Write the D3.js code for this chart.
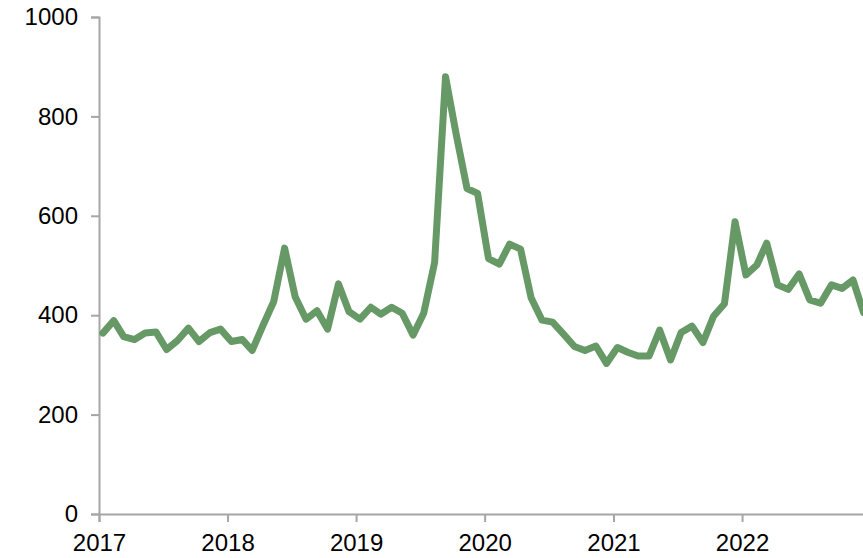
<!DOCTYPE html>
<html>
<head>
<meta charset="utf-8">
<script src="https://cdn.jsdelivr.net/npm/d3@7"></script>
<style>
  html, body { margin: 0; padding: 0; background: #fff; overflow: hidden; }
  svg { display: block; }
</style>
</head>
<body>
<svg id="chart" width="863" height="558"></svg>
<script>
// Monthly series, Jan 2017 .. Dec 2022
const startYear = 2017;
const values = [
  364, 389, 357, 351, 364, 366, 331, 349, 374, 347, 365, 372,
  347, 351, 329, 380, 427, 535, 437, 392, 409, 372, 463, 407,
  392, 416, 402, 416, 404, 360, 404, 506, 880, 765, 655, 645,
  514, 503, 543, 533, 435, 390, 386, 362, 337, 329, 338, 303,
  335, 325, 318, 318, 370, 310, 365, 378, 345, 398, 423, 588,
  481, 501, 545, 461, 452, 483, 431, 424, 461, 454, 471, 405
];
const yTicks = [0, 200, 400, 600, 800, 1000];
const xTickYears = [2017, 2018, 2019, 2020, 2021, 2022];

const data = values.map((v, i) => ({ date: new Date(startYear, i, 12), value: v }));

const svg = d3.select("#chart");
const mLeft = 99, mTop = 17, mBottom = 514;
const yearWidth = 128.6;

const x = d3.scaleTime()
  .domain([new Date(2017, 0, 1), new Date(2023, 0, 1)])
  .range([mLeft, mLeft + 6 * yearWidth]);
const y = d3.scaleLinear().domain([0, 1000]).range([mBottom, mTop]);

const axisColor = "#a6a6a6";
const font = "'Liberation Sans', Arial, sans-serif";

// Y axis
const yAxis = d3.axisLeft(y).tickValues(yTicks).tickSize(8).tickPadding(13).tickFormat(d3.format("d"));
const gy = svg.append("g").attr("transform", `translate(${mLeft},0)`).call(yAxis);
gy.select(".domain").attr("stroke", axisColor).attr("stroke-width", 2);
gy.selectAll(".tick line").attr("stroke", axisColor).attr("stroke-width", 2);
gy.selectAll(".tick text").attr("fill", "#000").style("font-family", font).style("font-size", "24px");

// X axis
const xAxis = d3.axisBottom(x).tickValues(xTickYears.map(yr => new Date(yr, 0, 1)))
  .tickSize(8).tickPadding(12).tickFormat(d3.timeFormat("%Y"));
const gx = svg.append("g").attr("transform", `translate(0,${mBottom})`).call(xAxis);
gx.select(".domain").attr("stroke", axisColor).attr("stroke-width", 2);
gx.selectAll(".tick line").attr("stroke", axisColor).attr("stroke-width", 2);
gx.selectAll(".tick text").attr("fill", "#000").style("font-family", font).style("font-size", "24px");

// Line
const line = d3.line().x(d => x(d.date)).y(d => y(d.value));
svg.append("path")
  .datum(data)
  .attr("fill", "none")
  .attr("stroke", "#669966")
  .attr("stroke-width", 7)
  .attr("stroke-linejoin", "round")
  .attr("stroke-linecap", "round")
  .attr("d", line);
</script>
</body>
</html>
